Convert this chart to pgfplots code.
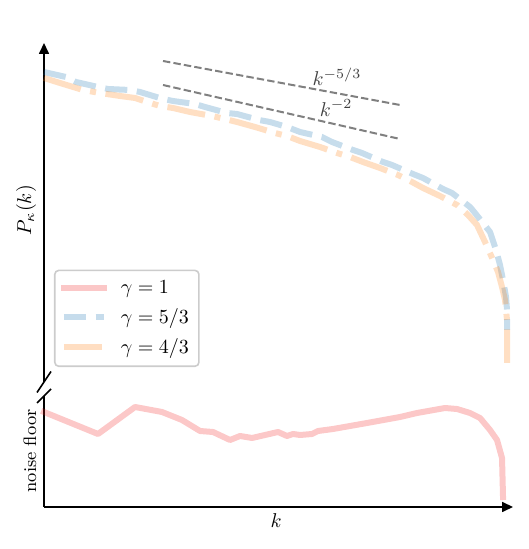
\documentclass[border=0pt]{standalone}
\usepackage{pgfplots}
\pgfplotsset{compat=1.18}
\usetikzlibrary{arrows.meta}
\definecolor{cred}{RGB}{243,35,35}
\definecolor{cblue}{RGB}{31,119,180}
\definecolor{corange}{RGB}{255,127,14}
\tikzset{
  g1/.style={cred, line width=3pt, opacity=0.25, line cap=rect, line join=round},
  g53/.style={cblue, line width=3pt, opacity=0.25, line join=round, dash pattern=on 11.1pt off 4.8pt},
  g43/.style={corange, line width=3pt, opacity=0.25, line join=round, dash pattern=on 19.2pt off 4.8pt on 3pt off 4.8pt},
  axarrow/.style={-{Triangle[length=5.5pt,width=5pt]}},
}
\pgfplotstableread{
x y
44 477
66 472
76 467
98 462
108 460
130 459
140 457
163 450
173 448
195 445
205 442
227 436
237 435
259 429
270 427
287 422
300 417
322 412
332 407
353 399
362 396
383 387
392 384
413 375
423 371
443 360
452 356
470 342
475 336
490 317
496 299
500 284
503 269
506 252
507 239
507 219
}\gfivethree
\pgfplotstableread{
x y
44 471
60 466
83 459
100 456
120 453
135 451
147 447
160 443
173 441
190 437
212 433
225 430
237 427
255 422
275 416
287 413
300 408
320 402
337 396
350 392
363 387
380 381
398 374
412 367
423 361
440 353
457 344
468 334
477 324
485 307
493 289
498 277
502 262
505 249
507 229
507 186
}\gfourthree
\pgfplotstableread{
x y
44 137
98 115
135 142
162 137
182 129
200 118
213 117
230 109
240 113
252 111
278 117
287 113
293 115
300 114
312 115
318 118
333 120
367 126
400 132
417 136
445 141
457 140
470 136
480 131
490 119
497 109
502 91
503 52
}\gone
\begin{document}
\begin{tikzpicture}[x=1pt,y=1pt]
\path (0,0) rectangle (264,274.5);
\begin{axis}[
  at={(22pt,83.5pt)}, anchor=south west,
  scale only axis, width=234.5pt, height=169.5pt,
  xmin=44, xmax=513, ymin=167, ymax=506,
  enlargelimits=false, clip=false,
  axis x line=none, axis y line=left,
  y axis line style={axarrow, line width=0.8pt},
  ticks=none, no markers,
  ylabel={$P_\kappa(k)$},
  ylabel style={at={(axis description cs:-0.038,0.507)}, anchor=center},
  legend cell align=left,
  legend image code/.code={\draw[#1] (0pt,0pt) -- (20pt,0pt);},
  legend style={at={(axis description cs:0.0213,0.044)}, anchor=south west,
    draw=black!20, line width=0.8pt, rounded corners=2pt, fill=white,
    row sep=2pt, inner xsep=3pt, inner ysep=3pt,
    /tikz/every odd column/.append style={column sep=5pt}},
]
\addlegendimage{g1}
\addlegendentry{$\gamma=1$}
\addplot[g53] table {\gfivethree};
\addlegendentry{$\gamma=5/3$}
\addplot[g43] table {\gfourthree};
\addlegendentry{$\gamma=4/3$}
\addplot[gray, line width=1pt, dash pattern=on 3.7pt off 1.6pt, forget plot] coordinates {(163,488) (400,444)};
\addplot[gray, line width=1pt, dash pattern=on 3.7pt off 1.6pt, forget plot] coordinates {(163,464) (400,410)};
\node[text=black!75] at (axis cs:337,472) {$k^{-5/3}$};
\node[text=black!75] at (axis cs:336,441) {$k^{-2}$};
\draw[line width=0.8pt] (rel axis cs:0,0) ++(-3.5pt,-5.25pt) -- ++(7pt,10.5pt);
\end{axis}
\begin{axis}[
  at={(22pt,21pt)}, anchor=south west,
  scale only axis, width=234.5pt, height=55.5pt,
  xmin=44, xmax=513, ymin=42, ymax=153,
  enlargelimits=false, clip=false,
  axis x line=bottom, axis y line=left,
  x axis line style={axarrow, line width=0.8pt},
  y axis line style={-, line width=0.8pt},
  ticks=none, no markers,
  xlabel={$k$},
  xlabel style={at={(axis description cs:0.495,-0.126)}, anchor=center},
  ylabel={noise floor},
  ylabel style={at={(axis description cs:-0.03,0.505)}, anchor=center, font=\small},
]
\addplot[g1] table {\gone};
\draw[line width=0.8pt] (rel axis cs:0,1) ++(-3.5pt,-3.5pt) -- ++(7pt,7pt);
\end{axis}
\end{tikzpicture}
\end{document}
